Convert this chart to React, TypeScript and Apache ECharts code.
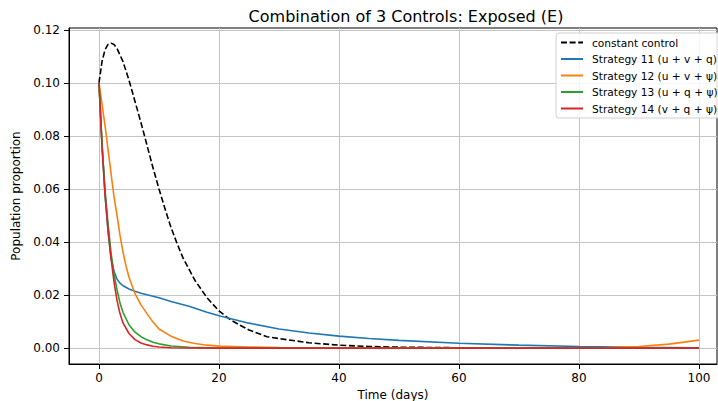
import React, { useEffect, useRef } from "react";
import * as echarts from "echarts";

const title = "Combination of 3 Controls: Exposed (E)";
const xTicks = [0, 20, 40, 60, 80, 100];
const yTicks = [0, 0.02, 0.04, 0.06, 0.08, 0.1, 0.12];

const tConst = [0, 0.5, 1, 1.5, 2, 2.5, 3, 4, 5, 6, 7, 8, 9, 10, 11, 12, 13, 14, 16, 18, 20, 22, 25, 28, 30, 35, 40, 45, 50, 60, 70, 80, 90, 100];
const eConst = [0.1, 0.108, 0.1125, 0.1145, 0.115, 0.1145, 0.113, 0.108, 0.101, 0.093, 0.085, 0.0765, 0.068, 0.06, 0.0525, 0.0455, 0.0395, 0.034, 0.0255, 0.019, 0.014, 0.0105, 0.0068, 0.0043, 0.0036, 0.002, 0.0011, 0.0006, 0.00035, 0.00012, 0.00005, 0.00002, 0.00001, 0];

const tS11 = [0, 0.5, 1, 1.5, 2, 2.5, 3, 3.5, 4, 5, 6, 7, 8, 10, 12, 15, 18, 20, 25, 30, 35, 40, 45, 50, 60, 70, 80, 90, 100];
const eS11 = [0.1, 0.077, 0.058, 0.044, 0.034, 0.029, 0.026, 0.0245, 0.0235, 0.0223, 0.0214, 0.0207, 0.0201, 0.019, 0.0176, 0.0158, 0.0135, 0.0122, 0.0094, 0.0072, 0.0057, 0.0045, 0.0036, 0.0029, 0.0018, 0.0011, 0.0006, 0.0003, 0.00015];

const tS12 = [0, 0.5, 1, 1.5, 2, 2.5, 3, 3.5, 4, 4.5, 5, 6, 7, 8, 9, 10, 12, 14, 16, 18, 20, 25, 30, 40, 50, 60, 70, 75, 80, 85, 90, 95, 100];
const eS12 = [0.1, 0.092, 0.084, 0.075, 0.066, 0.057, 0.05, 0.0425, 0.0362, 0.031, 0.0267, 0.0205, 0.0163, 0.013, 0.0098, 0.0072, 0.0045, 0.0027, 0.0017, 0.0011, 0.00075, 0.0004, 0.0002, 0.00005, 0.00002, 0.00001, 0.00003, 0.00006, 0.00012, 0.00025, 0.0006, 0.0015, 0.003];

const tS13 = [0, 0.5, 1, 1.5, 2, 2.5, 3, 3.5, 4, 5, 6, 7, 8, 9, 10, 12, 15, 20, 30, 50, 100];
const eS13 = [0.1, 0.077, 0.06, 0.047, 0.036, 0.028, 0.022, 0.017, 0.0135, 0.0088, 0.006, 0.0043, 0.0031, 0.0022, 0.0016, 0.0008, 0.0003, 0.00005, 0, 0, 0];

const tS14 = [0, 0.5, 1, 1.5, 2, 2.5, 3, 3.5, 4, 5, 6, 7, 8, 9, 10, 12, 15, 20, 30, 50, 100];
const eS14 = [0.1, 0.076, 0.058, 0.045, 0.034, 0.025, 0.018, 0.013, 0.0095, 0.0055, 0.0032, 0.0019, 0.0012, 0.0007, 0.0004, 0.00015, 0.00005, 0, 0, 0, 0];

const names = [
  "constant control",
  "Strategy 11 (u + v + q)",
  "Strategy 12 (u + v + ψ)",
  "Strategy 13 (u + q + ψ)",
  "Strategy 14 (v + q + ψ)",
];
const colors = ["#000000", "#1f77b4", "#ff7f0e", "#2ca02c", "#d62728"];

const zip = (t: number[], v: number[]) => t.map((x, i) => [x, v[i]]);

export default function App() {
  const ref = useRef<HTMLDivElement>(null);
  useEffect(() => {
    if (!ref.current) return;
    const chart = echarts.init(ref.current, undefined, { renderer: "svg" });
    const font = "DejaVu Sans";
    const sets = [
      zip(tConst, eConst),
      zip(tS11, eS11),
      zip(tS12, eS12),
      zip(tS13, eS13),
      zip(tS14, eS14),
    ];
    chart.setOption({
      animation: false,
      backgroundColor: "#ffffff",
      textStyle: { fontFamily: font },
      title: {
        text: title,
        left: 401,
        textAlign: "center",
        top: 3,
        textStyle: { fontFamily: font, fontSize: 16, fontWeight: "normal", color: "#000" },
      },
      grid: {
        left: 69,
        top: 28,
        width: 648,
        height: 336,
        show: true,
        borderColor: "#000",
        borderWidth: 1,
        backgroundColor: "transparent",
        outerBoundsMode: "none",
        containLabel: false,
      },
      legend: {
        orient: "vertical",
        left: 556,
        top: 33,
        padding: [4, 4, 4, 4],
        itemWidth: 22,
        itemHeight: 10,
        itemGap: 5.5,
        backgroundColor: "rgba(255,255,255,0.85)",
        borderColor: "#d0d0d0",
        borderWidth: 1,
        borderRadius: 3,
        itemStyle: { opacity: 0 },
        textStyle: { fontFamily: font, fontSize: 10.6, color: "#000", padding: [0, 0, 0, 4] },
        data: names,
      },
      xAxis: {
        type: "value",
        min: -5,
        max: 103,
        name: "Time (days)",
        nameLocation: "middle",
        nameGap: 24,
        nameTextStyle: { fontFamily: font, fontSize: 12, color: "#000" },
        axisLine: { show: true, onZero: false, lineStyle: { color: "#000", width: 1 } },
        axisTick: { show: true, length: 5, customValues: xTicks, lineStyle: { color: "#000" } },
        axisLabel: {
          customValues: xTicks,
          margin: 8,
          fontFamily: font,
          fontSize: 12,
          color: "#000",
        },
        splitLine: { show: true, lineStyle: { color: "#c4c4c4", width: 1 } },
      },
      yAxis: {
        type: "value",
        min: -0.006,
        max: 0.1207,
        name: "Population proportion",
        nameLocation: "middle",
        nameGap: 47,
        nameTextStyle: { fontFamily: font, fontSize: 12, color: "#000" },
        axisLine: { show: true, onZero: false, lineStyle: { color: "#000", width: 1 } },
        axisTick: { show: true, length: 5, customValues: yTicks, lineStyle: { color: "#000" } },
        axisLabel: {
          customValues: yTicks,
          margin: 9,
          fontFamily: font,
          fontSize: 12,
          color: "#000",
          formatter: (v: number) => v.toFixed(2),
        },
        splitLine: { show: true, lineStyle: { color: "#c4c4c4", width: 1 } },
      },
      series: sets.map((d, i) => ({
        name: names[i],
        type: "line",
        data: d,
        showSymbol: false,
        symbol: "none",
        smooth: false,
        color: colors[i],
        lineStyle: {
          color: colors[i],
          width: 1.6,
          type: i === 0 ? [6, 2.6] : "solid",
        },
        z: 2 + i,
      })),
    });
    return () => chart.dispose();
  }, []);
  return (
    <div
      ref={ref}
      style={{ position: "fixed", left: 0, top: 0, width: 718, height: 401 }}
    />
  );
}
